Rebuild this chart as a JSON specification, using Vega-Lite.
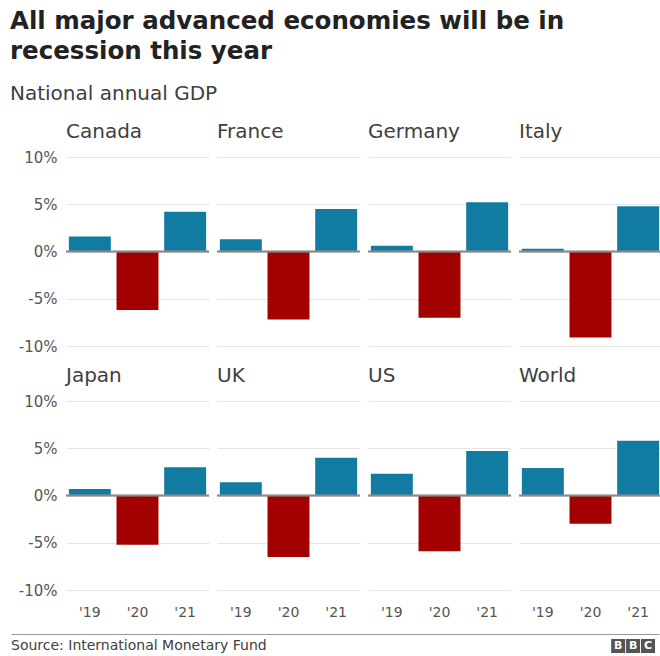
{
  "$schema": "https://vega.github.io/schema/vega-lite/v6.json",
  "background": "white",
  "padding": {"left": 10, "top": 8, "right": 0, "bottom": 0},
  "config": {
    "font": "DejaVu Sans",
    "view": {"stroke": null}
  },
  "title": {
    "text": ["All major advanced economies will be in", "recession this year"],
    "subtitle": "National annual GDP",
    "anchor": "start",
    "font": "DejaVu Sans",
    "fontSize": 24.5,
    "fontWeight": "bold",
    "color": "#222222",
    "lineHeight": 30,
    "subtitleFont": "DejaVu Sans",
    "subtitleFontSize": 20,
    "subtitleColor": "#404040",
    "subtitlePadding": 20,
    "offset": 17
  },
  "spacing": 15,
  "vconcat": [
    {
      "data": {
        "values": [
          {"country": "Canada", "year": "'19", "gdp": 1.6},
          {"country": "Canada", "year": "'20", "gdp": -6.2},
          {"country": "Canada", "year": "'21", "gdp": 4.2},
          {"country": "France", "year": "'19", "gdp": 1.3},
          {"country": "France", "year": "'20", "gdp": -7.2},
          {"country": "France", "year": "'21", "gdp": 4.5},
          {"country": "Germany", "year": "'19", "gdp": 0.6},
          {"country": "Germany", "year": "'20", "gdp": -7.0},
          {"country": "Germany", "year": "'21", "gdp": 5.2},
          {"country": "Italy", "year": "'19", "gdp": 0.3},
          {"country": "Italy", "year": "'20", "gdp": -9.1},
          {"country": "Italy", "year": "'21", "gdp": 4.8},
          {"country": "Japan", "year": "'19", "gdp": 0.7},
          {"country": "Japan", "year": "'20", "gdp": -5.2},
          {"country": "Japan", "year": "'21", "gdp": 3.0},
          {"country": "UK", "year": "'19", "gdp": 1.4},
          {"country": "UK", "year": "'20", "gdp": -6.5},
          {"country": "UK", "year": "'21", "gdp": 4.0},
          {"country": "US", "year": "'19", "gdp": 2.3},
          {"country": "US", "year": "'20", "gdp": -5.9},
          {"country": "US", "year": "'21", "gdp": 4.7},
          {"country": "World", "year": "'19", "gdp": 2.9},
          {"country": "World", "year": "'20", "gdp": -3.0},
          {"country": "World", "year": "'21", "gdp": 5.8}
        ]
      },
      "facet": {
        "field": "country",
        "type": "nominal",
        "sort": ["Canada", "France", "Germany", "Italy", "Japan", "UK", "US", "World"],
        "header": {
          "title": null,
          "labelAnchor": "start",
          "labelAlign": "left",
          "labelFont": "DejaVu Sans",
          "labelFontSize": 20,
          "labelColor": "#404040",
          "labelPadding": 15
        }
      },
      "columns": 4,
      "spacing": {"column": 6, "row": 20},
      "spec": {
        "width": 143,
        "height": 189,
        "layer": [
          {
            "mark": {"type": "bar"},
            "encoding": {
              "x": {
                "field": "year",
                "type": "ordinal",
                "scale": {"paddingInner": 0.12, "paddingOuter": 0.06},
                "axis": {
                  "title": null,
                  "domain": false,
                  "ticks": false,
                  "labelAngle": 0,
                  "labelFontSize": 14,
                  "labelColor": "#555555",
                  "labelPadding": 15
                }
              },
              "y": {
                "field": "gdp",
                "type": "quantitative",
                "scale": {"domain": [-10, 10]},
                "axis": {
                  "title": null,
                  "values": [-10, -5, 0, 5, 10],
                  "labelExpr": "datum.value + '%'",
                  "domain": false,
                  "ticks": false,
                  "gridColor": "#e6e6e6",
                  "labelFontSize": 15,
                  "labelColor": "#555555",
                  "labelPadding": 8,
                  "minExtent": 55
                }
              },
              "color": {
                "condition": {"test": "datum.gdp < 0", "value": "#a30000"},
                "value": "#127ba1"
              }
            }
          },
          {
            "mark": {"type": "rule", "color": "#8a8a8a", "strokeWidth": 1.5},
            "encoding": {"y": {"datum": 0}}
          }
        ]
      }
    },
    {
      "width": 593,
      "height": 24,
      "data": {
        "values": [
          {"pos": 0, "label": "Source: International Monetary Fund", "kind": "source"},
          {"pos": 0.937, "label": "B", "kind": "logo"},
          {"pos": 0.96, "label": "B", "kind": "logo"},
          {"pos": 0.983, "label": "C", "kind": "logo"}
        ]
      },
      "layer": [
        {
          "transform": [{"filter": "datum.kind === 'source'"}],
          "mark": {"type": "text", "align": "left", "baseline": "middle", "fontSize": 14, "color": "#404040"},
          "encoding": {
            "x": {
              "field": "pos",
              "type": "quantitative",
              "scale": {"domain": [0, 1], "range": [-55, 593]},
              "axis": {"orient": "top", "title": null, "labels": false, "ticks": false, "grid": false, "domain": true, "domainColor": "#999999", "domainWidth": 1}
            },
            "text": {"field": "label"}
          }
        },
        {
          "transform": [{"filter": "datum.kind === 'logo'"}],
          "mark": {"type": "square", "size": 196, "filled": true, "color": "#555555", "opacity": 1},
          "encoding": {
            "x": {"field": "pos", "type": "quantitative"}
          }
        },
        {
          "transform": [{"filter": "datum.kind === 'logo'"}],
          "mark": {"type": "text", "align": "center", "baseline": "middle", "fontSize": 11, "fontWeight": "bold", "color": "white"},
          "encoding": {
            "x": {"field": "pos", "type": "quantitative"},
            "text": {"field": "label"}
          }
        }
      ]
    }
  ]
}
